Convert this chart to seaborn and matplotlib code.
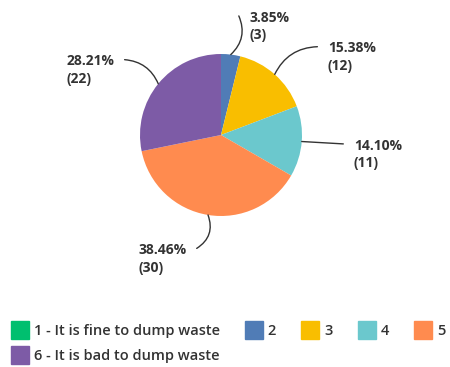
import numpy as np
import matplotlib
matplotlib.use('Agg')
import matplotlib.pyplot as plt
import seaborn as sns
from matplotlib.lines import Line2D

sns.set_theme(style='white')
plt.rcParams['font.family'] = ['Open Sans', 'DejaVu Sans']

# Dados
categorias = ['1 - It is fine to dump waste', '2', '3', '4', '5', '6 - It is bad to dump waste']
contagens = [0, 3, 12, 11, 30, 22]
percentuais = ['0.00%', '3.85%', '15.38%', '14.10%', '38.46%', '28.21%']
cores = ['#00BF6F', '#507CB6', '#F9BE00', '#6BC8CD', '#FF8B4F', '#7D5BA6']

# posicao do fim da linha guia (em raios) e curvatura, por fatia
fim_linha = {1: (0.22, 1.47), 2: (1.19, 1.86 - 0.77), 3: (1.51, -0.11),
             4: (-0.30, -1.40), 5: (-1.19, 0.93)}
rad = {1: -0.35, 2: 0.3, 3: 0.0, 4: 0.4, 5: -0.3}

W, H = 450, 367
cx, cy, r = 221, 135, 81
fig = plt.figure(figsize=(W / 100, H / 100), dpi=100)
ax = fig.add_axes([(cx - r) / W, (H - cy - r) / H, 2 * r / W, 2 * r / H])

ax.pie(contagens, colors=cores, startangle=90, counterclock=False,
       wedgeprops=dict(linewidth=0))
ax.set_xlim(-1, 1)
ax.set_ylim(-1, 1)
ax.axis('off')

total = sum(contagens)
acum = 0
for i, c in enumerate(contagens):
    if c == 0:
        continue
    meio = (acum + c / 2) / total * 2 * np.pi
    acum += c
    px = np.sin(meio)
    py = np.cos(meio)
    ex, ey = fim_linha[i]
    ax.annotate('', xy=(px, py), xytext=(ex, ey), annotation_clip=False,
                arrowprops=dict(arrowstyle='-', color='#333333', lw=1.0,
                                shrinkA=0, shrinkB=0,
                                connectionstyle=f'arc3,rad={rad[i]}'))
    direita = ex >= 0
    dx = 0.13 if direita else -0.13
    ax.text(ex + dx, ey - 0.13, f'{percentuais[i]}\n({c})',
            ha='left' if direita else 'right', va='center',
            multialignment='left', fontsize=10, fontweight='bold',
            color='#333333', linespacing=1.35, clip_on=False)

ordem = [0, 5, 1, 2, 3, 4]
handles = [Line2D([], [], marker='s', linestyle='', markersize=13,
                  markerfacecolor=cores[k], markeredgecolor=cores[k])
           for k in ordem]
labels = [categorias[k] for k in ordem]
fig.legend(handles, labels, loc='lower left', bbox_to_anchor=(0.0, -0.022),
           ncol=5, frameon=False, handlelength=1.0,
           handletextpad=0.45, columnspacing=1.85, labelspacing=0.75,
           borderpad=0.35, labelcolor='#333333',
           prop=dict(weight='semibold', size=10.5))

fig.savefig('out.png', dpi=100)
